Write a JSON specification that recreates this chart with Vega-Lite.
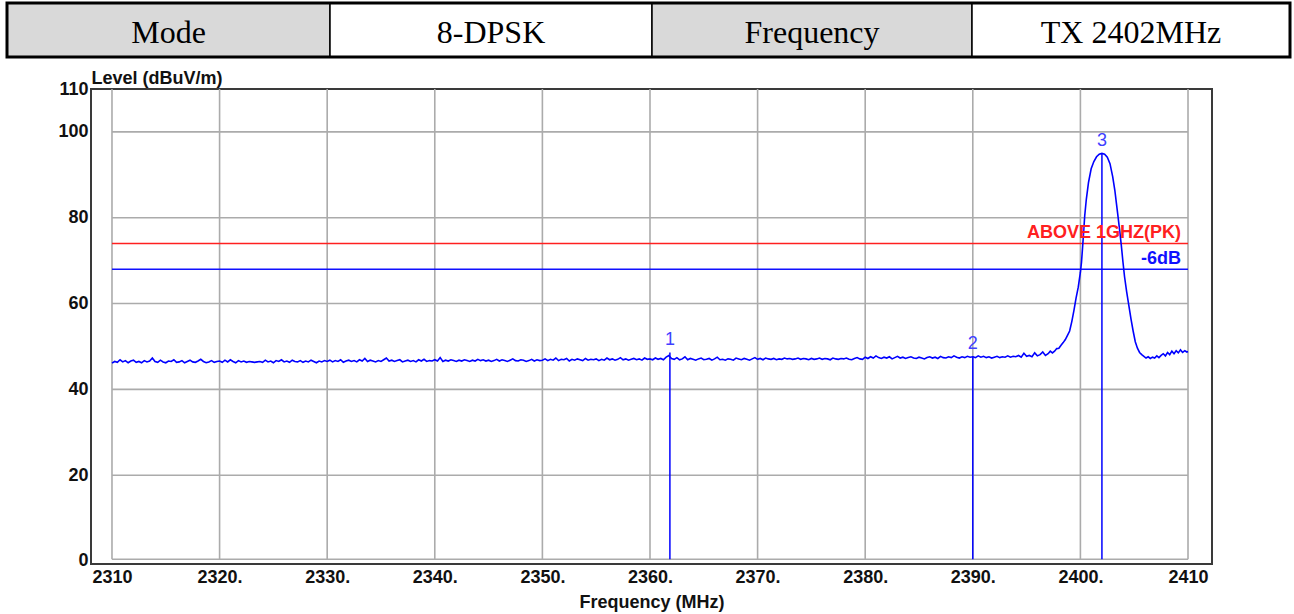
{
"$schema":"https://vega.github.io/schema/vega-lite/v6.json",
"width":1121,"height":475,
"autosize":{"type":"none"},
"padding":{"left":91,"top":89,"right":82,"bottom":50},
"background":"white",
"config":{"view":{"stroke":"#3a3a3a","strokeWidth":2},"font":"Liberation Sans"},
"datasets":{
"trace":[
{"f":2310,"v":46.1},{"f":2310.25,"v":46.5},{"f":2310.5,"v":46.3},{"f":2310.75,"v":46.9},{"f":2311,"v":46.4},{"f":2311.25,"v":46.7},{"f":2311.5,"v":46.2},{"f":2311.75,"v":46.6},{"f":2312,"v":46.8},{"f":2312.25,"v":46.3},
{"f":2312.5,"v":46.5},{"f":2312.75,"v":46.2},{"f":2313,"v":46.7},{"f":2313.25,"v":46.4},{"f":2313.5,"v":46.6},{"f":2313.75,"v":47.3},{"f":2314,"v":46.5},{"f":2314.25,"v":46.3},{"f":2314.5,"v":46.8},{"f":2314.75,"v":46.4},
{"f":2315,"v":46.2},{"f":2315.25,"v":46.6},{"f":2315.5,"v":46.5},{"f":2315.75,"v":46.9},{"f":2316,"v":46.3},{"f":2316.25,"v":46.4},{"f":2316.5,"v":46.7},{"f":2316.75,"v":46.2},{"f":2317,"v":46.5},{"f":2317.25,"v":46.8},
{"f":2317.5,"v":46.4},{"f":2317.75,"v":46.3},{"f":2318,"v":46.6},{"f":2318.25,"v":47.0},{"f":2318.5,"v":46.5},{"f":2318.75,"v":46.2},{"f":2319,"v":46.4},{"f":2319.25,"v":46.7},{"f":2319.5,"v":46.3},{"f":2319.75,"v":46.5},
{"f":2320,"v":46.6},{"f":2320.25,"v":46.3},{"f":2320.5,"v":46.8},{"f":2320.75,"v":46.4},{"f":2321,"v":46.9},{"f":2321.25,"v":46.5},{"f":2321.5,"v":46.2},{"f":2321.75,"v":46.7},{"f":2322,"v":46.4},{"f":2322.25,"v":46.6},
{"f":2322.5,"v":46.3},{"f":2322.75,"v":46.5},{"f":2323,"v":46.4},{"f":2323.25,"v":46.3},{"f":2323.5,"v":46.4},{"f":2323.75,"v":46.5},{"f":2324,"v":46.3},{"f":2324.25,"v":46.8},{"f":2324.5,"v":46.4},{"f":2324.75,"v":46.6},
{"f":2325,"v":46.2},{"f":2325.25,"v":46.7},{"f":2325.5,"v":46.5},{"f":2325.75,"v":46.9},{"f":2326,"v":46.4},{"f":2326.25,"v":46.6},{"f":2326.5,"v":46.3},{"f":2326.75,"v":46.8},{"f":2327,"v":46.5},{"f":2327.25,"v":46.4},
{"f":2327.5,"v":46.7},{"f":2327.75,"v":46.3},{"f":2328,"v":46.6},{"f":2328.25,"v":46.4},{"f":2328.5,"v":46.8},{"f":2328.75,"v":46.5},{"f":2329,"v":46.2},{"f":2329.25,"v":46.6},{"f":2329.5,"v":46.4},{"f":2329.75,"v":46.7},
{"f":2330,"v":46.5},{"f":2330.25,"v":46.8},{"f":2330.5,"v":46.4},{"f":2330.75,"v":46.7},{"f":2331,"v":46.5},{"f":2331.25,"v":46.9},{"f":2331.5,"v":46.3},{"f":2331.75,"v":46.6},{"f":2332,"v":46.8},{"f":2332.25,"v":46.5},
{"f":2332.5,"v":46.7},{"f":2332.75,"v":46.4},{"f":2333,"v":46.9},{"f":2333.25,"v":46.6},{"f":2333.5,"v":47.2},{"f":2333.75,"v":46.5},{"f":2334,"v":46.8},{"f":2334.25,"v":46.6},{"f":2334.5,"v":46.4},{"f":2334.75,"v":46.7},
{"f":2335,"v":46.5},{"f":2335.25,"v":46.9},{"f":2335.5,"v":47.3},{"f":2335.75,"v":46.6},{"f":2336,"v":46.8},{"f":2336.25,"v":46.5},{"f":2336.5,"v":46.7},{"f":2336.75,"v":46.9},{"f":2337,"v":46.4},{"f":2337.25,"v":46.6},
{"f":2337.5,"v":46.8},{"f":2337.75,"v":46.5},{"f":2338,"v":46.7},{"f":2338.25,"v":46.4},{"f":2338.5,"v":46.9},{"f":2338.75,"v":46.6},{"f":2339,"v":47.0},{"f":2339.25,"v":46.5},{"f":2339.5,"v":46.7},{"f":2339.75,"v":46.6},
{"f":2340,"v":46.9},{"f":2340.25,"v":46.6},{"f":2340.5,"v":47.4},{"f":2340.75,"v":46.5},{"f":2341,"v":46.8},{"f":2341.25,"v":46.6},{"f":2341.5,"v":46.9},{"f":2341.75,"v":46.7},{"f":2342,"v":46.5},{"f":2342.25,"v":46.8},
{"f":2342.5,"v":46.6},{"f":2342.75,"v":46.9},{"f":2343,"v":46.7},{"f":2343.25,"v":46.5},{"f":2343.5,"v":46.8},{"f":2343.75,"v":46.6},{"f":2344,"v":47.0},{"f":2344.25,"v":46.7},{"f":2344.5,"v":46.9},{"f":2344.75,"v":46.6},
{"f":2345,"v":46.8},{"f":2345.25,"v":46.5},{"f":2345.5,"v":46.7},{"f":2345.75,"v":47.0},{"f":2346,"v":46.6},{"f":2346.25,"v":46.9},{"f":2346.5,"v":46.7},{"f":2346.75,"v":46.5},{"f":2347,"v":46.8},{"f":2347.25,"v":47.1},
{"f":2347.5,"v":46.7},{"f":2347.75,"v":46.6},{"f":2348,"v":46.9},{"f":2348.25,"v":46.8},{"f":2348.5,"v":46.5},{"f":2348.75,"v":46.7},{"f":2349,"v":47.0},{"f":2349.25,"v":46.6},{"f":2349.5,"v":46.9},{"f":2349.75,"v":46.7},
{"f":2350,"v":46.8},{"f":2350.25,"v":47.1},{"f":2350.5,"v":46.7},{"f":2350.75,"v":47.0},{"f":2351,"v":46.8},{"f":2351.25,"v":47.3},{"f":2351.5,"v":46.7},{"f":2351.75,"v":47.0},{"f":2352,"v":46.9},{"f":2352.25,"v":47.2},
{"f":2352.5,"v":46.6},{"f":2352.75,"v":47.0},{"f":2353,"v":46.8},{"f":2353.25,"v":47.1},{"f":2353.5,"v":46.9},{"f":2353.75,"v":46.7},{"f":2354,"v":47.2},{"f":2354.25,"v":46.8},{"f":2354.5,"v":47.0},{"f":2354.75,"v":46.9},
{"f":2355,"v":47.1},{"f":2355.25,"v":46.7},{"f":2355.5,"v":47.0},{"f":2355.75,"v":46.8},{"f":2356,"v":47.3},{"f":2356.25,"v":46.9},{"f":2356.5,"v":47.1},{"f":2356.75,"v":46.8},{"f":2357,"v":47.0},{"f":2357.25,"v":47.4},
{"f":2357.5,"v":46.9},{"f":2357.75,"v":47.1},{"f":2358,"v":46.8},{"f":2358.25,"v":47.0},{"f":2358.5,"v":47.2},{"f":2358.75,"v":46.9},{"f":2359,"v":47.1},{"f":2359.25,"v":46.8},{"f":2359.5,"v":47.3},{"f":2359.75,"v":47.0},
{"f":2360,"v":47.1},{"f":2360.25,"v":46.9},{"f":2360.5,"v":47.3},{"f":2360.75,"v":47.0},{"f":2361,"v":47.2},{"f":2361.25,"v":46.9},{"f":2361.5,"v":47.5},{"f":2361.75,"v":47.9},{"f":2362,"v":47.2},{"f":2362.25,"v":47.0},
{"f":2362.5,"v":47.4},{"f":2362.75,"v":46.9},{"f":2363,"v":47.1},{"f":2363.25,"v":47.6},{"f":2363.5,"v":46.9},{"f":2363.75,"v":47.2},{"f":2364,"v":47.0},{"f":2364.25,"v":46.8},{"f":2364.5,"v":47.1},{"f":2364.75,"v":47.3},
{"f":2365,"v":46.9},{"f":2365.25,"v":47.0},{"f":2365.5,"v":47.2},{"f":2365.75,"v":46.8},{"f":2366,"v":47.1},{"f":2366.25,"v":47.5},{"f":2366.5,"v":46.9},{"f":2366.75,"v":47.0},{"f":2367,"v":46.8},{"f":2367.25,"v":47.1},
{"f":2367.5,"v":47.0},{"f":2367.75,"v":46.8},{"f":2368,"v":47.3},{"f":2368.25,"v":47.1},{"f":2368.5,"v":46.9},{"f":2368.75,"v":47.2},{"f":2369,"v":47.0},{"f":2369.25,"v":46.8},{"f":2369.5,"v":47.1},{"f":2369.75,"v":47.4},
{"f":2370,"v":47.0},{"f":2370.25,"v":47.2},{"f":2370.5,"v":46.9},{"f":2370.75,"v":47.3},{"f":2371,"v":47.1},{"f":2371.25,"v":47.0},{"f":2371.5,"v":47.2},{"f":2371.75,"v":46.9},{"f":2372,"v":47.1},{"f":2372.25,"v":47.0},
{"f":2372.5,"v":47.3},{"f":2372.75,"v":47.1},{"f":2373,"v":47.2},{"f":2373.25,"v":47.0},{"f":2373.5,"v":47.1},{"f":2373.75,"v":47.3},{"f":2374,"v":47.0},{"f":2374.25,"v":47.2},{"f":2374.5,"v":47.1},{"f":2374.75,"v":46.9},
{"f":2375,"v":47.2},{"f":2375.25,"v":47.0},{"f":2375.5,"v":47.1},{"f":2375.75,"v":47.3},{"f":2376,"v":47.0},{"f":2376.25,"v":47.2},{"f":2376.5,"v":47.1},{"f":2376.75,"v":46.9},{"f":2377,"v":47.3},{"f":2377.25,"v":47.1},
{"f":2377.5,"v":47.0},{"f":2377.75,"v":47.2},{"f":2378,"v":47.1},{"f":2378.25,"v":47.3},{"f":2378.5,"v":47.0},{"f":2378.75,"v":46.9},{"f":2379,"v":47.2},{"f":2379.25,"v":47.4},{"f":2379.5,"v":47.1},{"f":2379.75,"v":47.0},
{"f":2380,"v":47.5},{"f":2380.25,"v":47.2},{"f":2380.5,"v":47.6},{"f":2380.75,"v":47.3},{"f":2381,"v":47.8},{"f":2381.25,"v":47.4},{"f":2381.5,"v":47.2},{"f":2381.75,"v":47.5},{"f":2382,"v":47.3},{"f":2382.25,"v":47.6},
{"f":2382.5,"v":47.1},{"f":2382.75,"v":47.4},{"f":2383,"v":47.7},{"f":2383.25,"v":47.3},{"f":2383.5,"v":47.5},{"f":2383.75,"v":47.2},{"f":2384,"v":47.4},{"f":2384.25,"v":47.6},{"f":2384.5,"v":47.3},{"f":2384.75,"v":47.2},
{"f":2385,"v":47.5},{"f":2385.25,"v":47.3},{"f":2385.5,"v":47.1},{"f":2385.75,"v":47.4},{"f":2386,"v":47.6},{"f":2386.25,"v":47.3},{"f":2386.5,"v":47.5},{"f":2386.75,"v":47.2},{"f":2387,"v":47.7},{"f":2387.25,"v":47.4},
{"f":2387.5,"v":47.3},{"f":2387.75,"v":47.6},{"f":2388,"v":47.4},{"f":2388.25,"v":47.8},{"f":2388.5,"v":47.5},{"f":2388.75,"v":47.3},{"f":2389,"v":47.6},{"f":2389.25,"v":47.4},{"f":2389.5,"v":47.7},{"f":2389.75,"v":47.5},
{"f":2390,"v":47.6},{"f":2390.25,"v":47.4},{"f":2390.5,"v":47.8},{"f":2390.75,"v":47.5},{"f":2391,"v":47.7},{"f":2391.25,"v":47.4},{"f":2391.5,"v":47.6},{"f":2391.75,"v":47.3},{"f":2392,"v":47.5},{"f":2392.25,"v":47.7},
{"f":2392.5,"v":47.4},{"f":2392.75,"v":47.6},{"f":2393,"v":47.5},{"f":2393.25,"v":47.8},{"f":2393.5,"v":47.5},{"f":2393.75,"v":47.7},{"f":2394,"v":47.6},{"f":2394.25,"v":47.9},{"f":2394.5,"v":47.5},{"f":2394.75,"v":48.4},
{"f":2395,"v":47.7},{"f":2395.25,"v":47.9},{"f":2395.5,"v":47.6},{"f":2395.75,"v":48.5},{"f":2396,"v":47.8},{"f":2396.25,"v":48.1},{"f":2396.5,"v":48.7},{"f":2396.75,"v":47.9},
{"f":2397,"v":48.3},{"f":2397.2,"v":48.9},{"f":2397.4,"v":48.5},{"f":2397.6,"v":48.9},{"f":2397.8,"v":49.5},{"f":2398,"v":49.6},{"f":2398.2,"v":50.3},{"f":2398.4,"v":50.9},{"f":2398.6,"v":51.6},{"f":2398.8,"v":52.6},
{"f":2399,"v":53.6},{"f":2399.2,"v":55.8},{"f":2399.4,"v":58.4},{"f":2399.6,"v":61.3},{"f":2399.8,"v":63.8},{"f":2400,"v":67.3},{"f":2400.1,"v":69.6},{"f":2400.2,"v":73.0},{"f":2400.3,"v":76.6},{"f":2400.4,"v":80.4},
{"f":2400.55,"v":84.3},{"f":2400.75,"v":88.2},{"f":2401,"v":91.4},{"f":2401.25,"v":93.1},{"f":2401.5,"v":94.2},{"f":2401.75,"v":94.8},{"f":2402,"v":95.0},{"f":2402.25,"v":94.8},{"f":2402.5,"v":94.1},{"f":2402.75,"v":92.6},
{"f":2403,"v":89.6},{"f":2403.2,"v":86.4},{"f":2403.35,"v":83.3},{"f":2403.5,"v":80.2},{"f":2403.65,"v":77.0},{"f":2403.8,"v":73.6},{"f":2403.95,"v":69.8},{"f":2404.1,"v":66.3},{"f":2404.3,"v":62.7},{"f":2404.5,"v":59.6},
{"f":2404.7,"v":56.4},{"f":2404.9,"v":53.6},{"f":2405.1,"v":51.1},{"f":2405.3,"v":49.6},{"f":2405.5,"v":48.6},{"f":2405.7,"v":48.1},{"f":2405.9,"v":47.7},{"f":2406.1,"v":47.3},{"f":2406.3,"v":47.6},{"f":2406.5,"v":47.2},
{"f":2406.7,"v":47.5},{"f":2406.9,"v":47.3},{"f":2407.1,"v":47.8},{"f":2407.3,"v":47.4},{"f":2407.5,"v":47.9},{"f":2407.7,"v":48.3},{"f":2407.9,"v":47.8},{"f":2408.1,"v":48.6},{"f":2408.3,"v":48.1},{"f":2408.5,"v":48.9},
{"f":2408.7,"v":48.3},{"f":2408.9,"v":49.0},{"f":2409.1,"v":48.5},{"f":2409.3,"v":49.2},{"f":2409.5,"v":48.6},{"f":2409.7,"v":49.0},{"f":2409.9,"v":48.7},{"f":2410,"v":48.8}
],
"gridx":[{"f":2310},{"f":2320},{"f":2330},{"f":2340},{"f":2350},{"f":2360},{"f":2370},{"f":2380},{"f":2390},{"f":2400},{"f":2410}],
"gridy":[{"v":0.4},{"v":20},{"v":40},{"v":60},{"v":80},{"v":100}],
"limits":[{"v":74,"name":"ABOVE 1GHZ(PK)"},{"v":68,"name":"-6dB"}],
"markers":[{"f":2361.85,"v":48.6,"m":"1"},{"f":2390,"v":47.8,"m":"2"},{"f":2402,"v":95.0,"m":"3"}],
"table":[
{"c0":0,"c1":1,"cm":0.5,"label":"Mode","kind":"head"},
{"c0":1,"c1":2,"cm":1.5,"label":"8-DPSK","kind":"val"},
{"c0":2,"c1":3,"cm":2.5,"label":"Frequency","kind":"head"},
{"c0":3,"c1":4,"cm":3.5,"label":"TX 2402MHz","kind":"val"}
],
"frame":[{"a":0,"b":4}]
},
"layer":[
{"layer":[
{"data":{"name":"gridx"},"mark":{"type":"rule","color":"#ababab","strokeWidth":1.6},
 "encoding":{
  "x":{"field":"f","type":"quantitative","scale":{"domain":[2308.05,2412.23],"nice":false,"zero":false},
   "axis":{"values":[2310,2320,2330,2340,2350,2360,2370,2380,2390,2400,2410],
    "labelExpr":"(datum.value==2310||datum.value==2410)?format(datum.value,'d'):format(datum.value,'d')+'.'",
    "ticks":false,"domain":false,"grid":false,"labelFont":"Liberation Sans","labelFontWeight":"bold","labelFontSize":18,"labelColor":"#111111","labelPadding":4,"labelFlush":false,"labelOverlap":false,
    "title":"Frequency (MHz)","titleFont":"Liberation Sans","titleFontSize":18,"titleFontWeight":"bold","titleColor":"#111111","titlePadding":7}},
  "y":{"datum":0.4,"type":"quantitative","scale":{"domain":[-0.7,110],"nice":false,"zero":false},
   "axis":{"values":[0,20,40,60,80,100,110],"ticks":false,"domain":false,"grid":false,"labelFont":"Liberation Sans","labelFontWeight":"bold","labelFontSize":18,"labelColor":"#111111","labelPadding":3,"labelFlush":false,"labelOverlap":false,
    "title":"Level (dBuV/m)","titleAngle":0,"titleAlign":"left","titleX":0,"titleY":-6,"titleBaseline":"alphabetic","titleFont":"Liberation Sans","titleFontSize":18,"titleFontWeight":"bold","titleColor":"#111111"}},
  "y2":{"datum":110}}},
{"data":{"name":"gridy"},"mark":{"type":"rule","color":"#ababab","strokeWidth":1.6},
 "encoding":{
  "y":{"field":"v","type":"quantitative","scale":{"domain":[-0.7,110],"nice":false,"zero":false}},
  "x":{"datum":2310,"type":"quantitative","scale":{"domain":[2308.05,2412.23],"nice":false,"zero":false}},
  "x2":{"datum":2410}}},
{"data":{"name":"limits"},"mark":{"type":"rule","strokeWidth":1.4},
 "encoding":{
  "y":{"field":"v","type":"quantitative","scale":{"domain":[-0.7,110],"nice":false,"zero":false}},
  "x":{"datum":2310,"type":"quantitative","scale":{"domain":[2308.05,2412.23],"nice":false,"zero":false}},
  "x2":{"datum":2410},
  "color":{"field":"name","type":"nominal","scale":{"domain":["ABOVE 1GHZ(PK)","-6dB"],"range":["#ff2020","#1010ff"]},"legend":null}}},
{"data":{"name":"markers"},"mark":{"type":"rule","color":"#0000ff","strokeWidth":1.5},
 "encoding":{
  "x":{"field":"f","type":"quantitative","scale":{"domain":[2308.05,2412.23],"nice":false,"zero":false}},
  "y":{"field":"v","type":"quantitative","scale":{"domain":[-0.7,110],"nice":false,"zero":false}},
  "y2":{"datum":0.4}}},
{"data":{"name":"trace"},"mark":{"type":"line","color":"#0000ff","strokeWidth":1.6},
 "encoding":{
  "x":{"field":"f","type":"quantitative","scale":{"domain":[2308.05,2412.23],"nice":false,"zero":false}},
  "y":{"field":"v","type":"quantitative","scale":{"domain":[-0.7,110],"nice":false,"zero":false}}}},
{"data":{"name":"limits"},"mark":{"type":"text","align":"right","baseline":"alphabetic","dx":-7,"dy":-5,"font":"Liberation Sans","fontSize":18,"fontWeight":"bold"},
 "encoding":{
  "y":{"field":"v","type":"quantitative","scale":{"domain":[-0.7,110],"nice":false,"zero":false}},
  "x":{"datum":2410,"type":"quantitative","scale":{"domain":[2308.05,2412.23],"nice":false,"zero":false}},
  "text":{"field":"name"},
  "color":{"field":"name","type":"nominal","scale":{"domain":["ABOVE 1GHZ(PK)","-6dB"],"range":["#ff2020","#2a2aff"]},"legend":null}}},
{"data":{"name":"markers"},"mark":{"type":"text","align":"center","baseline":"middle","dy":-12,"font":"Liberation Sans","fontSize":18,"color":"#4040ff"},
 "encoding":{
  "x":{"field":"f","type":"quantitative","scale":{"domain":[2308.05,2412.23],"nice":false,"zero":false}},
  "y":{"field":"v","type":"quantitative","scale":{"domain":[-0.7,110],"nice":false,"zero":false}},
  "text":{"field":"m"}}}
]},
{"layer":[
{"data":{"name":"table"},"mark":{"type":"rect","stroke":"#000000","strokeWidth":1.5},
 "encoding":{
  "x":{"field":"c0","type":"quantitative","scale":{"domain":[0,1,2,3,4],"range":[-84,239,561,881,1199]},"axis":null},
  "x2":{"field":"c1"},
  "y":{"datum":0,"type":"quantitative","scale":{"domain":[0,1],"range":[-32,-86]},"axis":null},
  "y2":{"datum":1},
  "fill":{"field":"kind","type":"nominal","scale":{"domain":["head","val"],"range":["#d9d9d9","#ffffff"]},"legend":null}}},
{"data":{"name":"frame"},"mark":{"type":"rect","fill":null,"stroke":"#000000","strokeWidth":3},
 "encoding":{
  "x":{"field":"a","type":"quantitative","scale":{"domain":[0,1,2,3,4],"range":[-84,239,561,881,1199]},"axis":null},
  "x2":{"field":"b"},
  "y":{"datum":0,"type":"quantitative","scale":{"domain":[0,1],"range":[-32,-86]},"axis":null},
  "y2":{"datum":1}}},
{"data":{"name":"table"},"mark":{"type":"text","align":"center","baseline":"middle","dy":3,"font":"Liberation Serif","fontSize":32,"color":"#000000"},
 "encoding":{
  "x":{"field":"cm","type":"quantitative","scale":{"domain":[0,1,2,3,4],"range":[-84,239,561,881,1199]},"axis":null},
  "y":{"datum":0.5,"type":"quantitative","scale":{"domain":[0,1],"range":[-32,-86]},"axis":null},
  "text":{"field":"label"}}}
]}
],
"resolve":{"scale":{"x":"independent","y":"independent"}}
}
